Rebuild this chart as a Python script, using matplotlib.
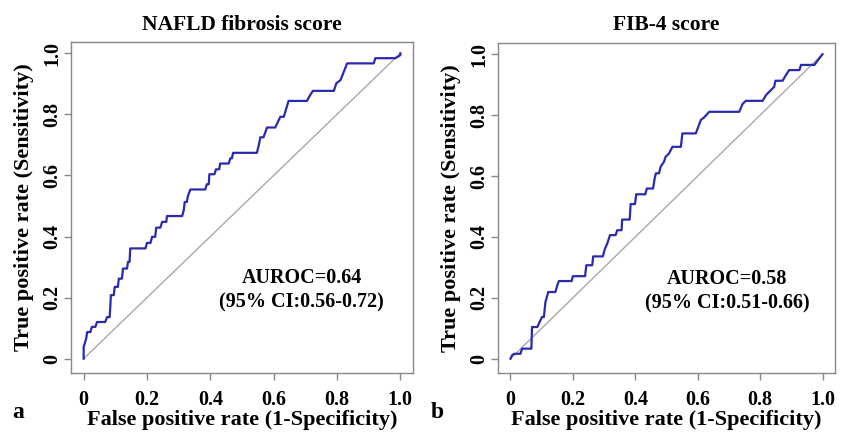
import matplotlib
matplotlib.use("Agg")
import matplotlib.pyplot as plt

plt.rcParams['font.family'] = ['Liberation Serif', 'DejaVu Serif']
plt.rcParams['font.weight'] = 'bold'

# ROC step curve, NAFLD fibrosis score
nfs_fpr = [0, 0, 0.008, 0.011, 0.021, 0.026, 0.037, 0.042, 0.068, 0.074, 0.082, 0.084,
           0.086, 0.095, 0.098, 0.108, 0.111, 0.121, 0.124, 0.137, 0.140, 0.145, 0.147,
           0.195, 0.200, 0.211, 0.216, 0.226, 0.229, 0.242, 0.248, 0.261, 0.263, 0.311,
           0.316, 0.319, 0.326, 0.329, 0.337, 0.384, 0.389, 0.395, 0.397, 0.413, 0.418,
           0.428, 0.431, 0.458, 0.463, 0.468, 0.472, 0.547, 0.553, 0.558, 0.568, 0.579,
           0.605, 0.621, 0.632, 0.647, 0.705, 0.714, 0.724, 0.790, 0.798, 0.811, 0.832,
           0.916, 0.921, 0.984, 1.0, 1.0]
nfs_tpr = [0, 0.038, 0.066, 0.087, 0.087, 0.104, 0.104, 0.120, 0.120, 0.136, 0.136, 0.169,
           0.208, 0.208, 0.235, 0.235, 0.262, 0.262, 0.295, 0.295, 0.317, 0.317, 0.361,
           0.361, 0.379, 0.379, 0.399, 0.399, 0.429, 0.429, 0.448, 0.448, 0.467, 0.467,
           0.486, 0.513, 0.513, 0.532, 0.554, 0.554, 0.571, 0.571, 0.604, 0.604, 0.620,
           0.620, 0.639, 0.639, 0.656, 0.656, 0.674, 0.674, 0.699, 0.725, 0.725, 0.757,
           0.757, 0.792, 0.792, 0.844, 0.844, 0.861, 0.877, 0.877, 0.902, 0.912, 0.967,
           0.967, 0.984, 0.984, 0.994, 1.0]

# ROC step curve, FIB-4 score
fib4_fpr = [0, 0.005, 0.011, 0.032, 0.037, 0.067, 0.069, 0.086, 0.091, 0.101, 0.107,
            0.112, 0.121, 0.144, 0.150, 0.155, 0.196, 0.200, 0.239, 0.243, 0.262, 0.265,
            0.296, 0.303, 0.310, 0.319, 0.337, 0.342, 0.356, 0.358, 0.382, 0.385, 0.399,
            0.403, 0.432, 0.437, 0.457, 0.462, 0.466, 0.476, 0.481, 0.492, 0.497, 0.508,
            0.519, 0.546, 0.551, 0.594, 0.610, 0.621, 0.637, 0.733, 0.744, 0.754, 0.808,
            0.819, 0.845, 0.849, 0.872, 0.883, 0.893, 0.926, 0.931, 0.974, 0.990, 1.0]
fib4_tpr = [0, 0.011, 0.016, 0.016, 0.033, 0.033, 0.104, 0.104, 0.115, 0.137, 0.137,
            0.186, 0.219, 0.219, 0.241, 0.255, 0.255, 0.271, 0.271, 0.307, 0.307, 0.336,
            0.336, 0.362, 0.378, 0.406, 0.406, 0.422, 0.422, 0.457, 0.457, 0.508, 0.508,
            0.540, 0.540, 0.559, 0.559, 0.592, 0.609, 0.609, 0.630, 0.647, 0.663, 0.674,
            0.696, 0.696, 0.740, 0.740, 0.784, 0.793, 0.811, 0.811, 0.837, 0.847, 0.847,
            0.866, 0.893, 0.913, 0.913, 0.932, 0.948, 0.948, 0.965, 0.965, 0.987, 1.0]

titles = ["NAFLD fibrosis score", "FIB-4 score"]
auroc_text = ["AUROC=0.64\n(95% CI:0.56-0.72)", "AUROC=0.58\n(95% CI:0.51-0.66)"]
panel_tags = ["a", "b"]
ticks = [0, 0.2, 0.4, 0.6, 0.8, 1.0]
tick_labels = ["0", "0.2", "0.4", "0.6", "0.8", "1.0"]

W, H = 842, 436
fig = plt.figure(figsize=(W / 100, H / 100), dpi=100)

# box positions in pixels: left, top, right, bottom
boxes = [(71, 42, 413, 373), (498, 43, 835, 373)]
curves = [(nfs_fpr, nfs_tpr), (fib4_fpr, fib4_tpr)]
text_pos = [(0.675, 0.25), (0.68, 0.248)]
tag_x = [12, 431]

for i in range(2):
    l, t, r, b = boxes[i]
    ax = fig.add_axes([l / W, 1 - b / H, (r - l) / W, (b - t) / H])
    fpr, tpr = curves[i]
    ax.plot([0, 1], [0, 1], color='#a8a8a8', linewidth=1.0)
    ax.plot(fpr, tpr, color='#2a2ab0', linewidth=1.6)
    ax.set_xlim(-0.04, 1.04)
    ax.set_ylim(-0.047, 1.037)
    ax.set_xticks(ticks)
    ax.set_xticklabels(tick_labels)
    ax.set_yticks(ticks)
    ax.set_yticklabels(tick_labels, rotation=90, va='center')
    for s in ax.spines.values():
        s.set_color('#888888')
        s.set_linewidth(1.0)
    ax.tick_params(direction='out', length=5, width=1, color='#888888', labelsize=14.5)
    ax.tick_params(axis='x', pad=7)
    ax.tick_params(axis='y', pad=1)
    ax.set_title(titles[i], fontsize=15.5, fontweight='bold', pad=9)
    ax.set_xlabel("False positive rate (1-Specificity)", fontsize=16, fontweight='bold',
                  labelpad=0)
    ax.set_ylabel("True positive rate (Sensitivity)", fontsize=16, fontweight='bold',
                  labelpad=6)
    ax.text(text_pos[i][0], text_pos[i][1], auroc_text[i], transform=ax.transAxes,
            ha='center', va='center', fontsize=14.5, fontweight='bold', linespacing=1.3)
    fig.text(tag_x[i] / W, 1 - 412 / H, panel_tags[i], fontsize=17, fontweight='bold',
             ha='left', va='center')

fig.savefig("out.png", dpi=100)
